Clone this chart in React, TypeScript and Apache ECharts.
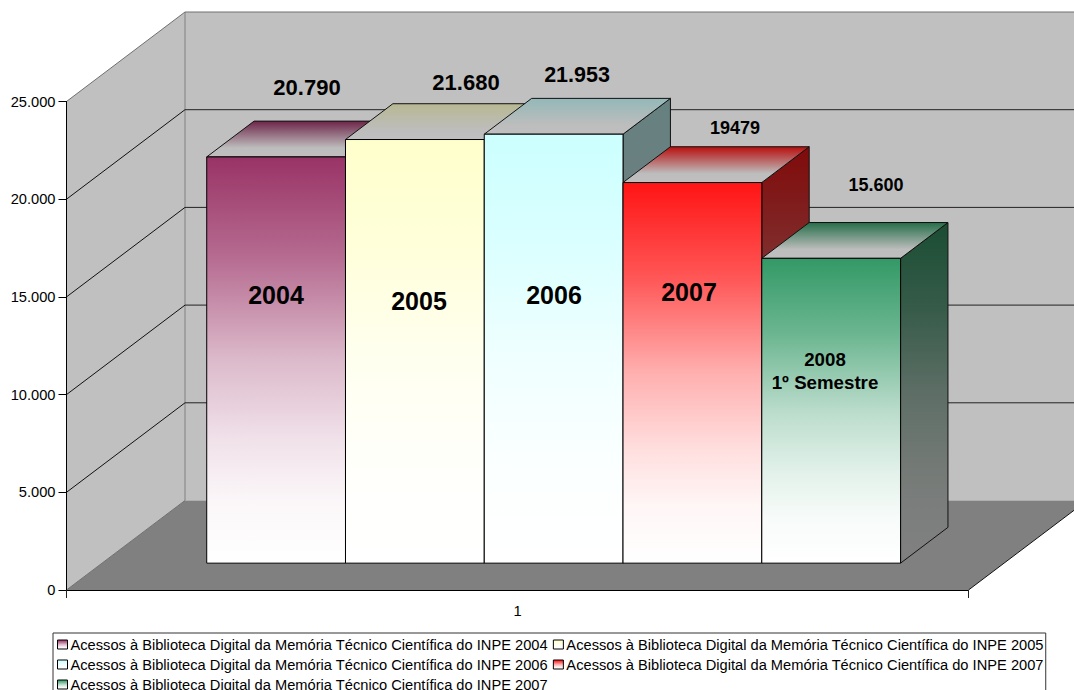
import React, { useEffect, useRef } from "react";
import * as echarts from "echarts";

const FONT = '"Liberation Sans", Arial, sans-serif';
const categories = ["1"];
const yTicks = [0, 5000, 10000, 15000, 20000, 25000];
const values = [20790, 21680, 21953, 19479, 15600];
const seriesNames = [
  "Acessos à Biblioteca Digital da Memória Técnico Científica do INPE 2004",
  "Acessos à Biblioteca Digital da Memória Técnico Científica do INPE 2005",
  "Acessos à Biblioteca Digital da Memória Técnico Científica do INPE 2006",
  "Acessos à Biblioteca Digital da Memória Técnico Científica do INPE 2007",
  // the reference repeats this name; the trailing space keeps ECharts from merging the two entries
  "Acessos à Biblioteca Digital da Memória Técnico Científica do INPE 2007 ",
];
const baseColors = [[153, 51, 102], [255, 255, 204], [204, 255, 255], [255, 20, 20], [51, 153, 102]];
const valueLabels = ["20.790", "21.680", "21.953", "19479", "15.600"];
const valueLabelPos = [[307, 87, 22], [466, 82, 22], [577, 75, 21.5], [735, 128, 18], [876, 185, 18]];
const yearLabels = ["2004", "2005", "2006", "2007", "2008\n1º Semestre"];
const yearLabelPos = [[276, 295, 25], [419, 301, 25], [554, 295, 25], [689, 292, 25], [825, 371, 18.7]];

const WALL_DX = 118.5;
const WALL_DY = -89.5;
const BAR_PLANE = 0.3;
const BAR_PLANE_X = 0.305;
const BAR_DEPTH = 0.4;
const GAP_BARS = 0.75;
// how far each colour has faded at a given height of a bar: [position, fade]
const FADE = [[0, 0], [0.25, 0.28], [0.5, 0.66], [0.7, 0.86], [0.85, 0.96], [1, 1]];

const rgb = (c: number[], k = 1) => `rgb(${c.map((v) => Math.round(v * k)).join(",")})`;
const vGrad = (stops: [number, string][]) =>
  new echarts.graphic.LinearGradient(0, 0, 0, 1, stops.map(([offset, color]) => ({ offset, color })));
const fadeGrad = (from: number[], to: number[]) =>
  vGrad(FADE.map(([pos, t]) => [pos, rgb(from.map((v, i) => v + (to[i] - v) * t))] as [number, string]));

const poly = (points: number[][], fill: any, stroke: any, z2 = 0, lineWidth = 1) => ({
  type: "polygon",
  shape: { points },
  z2,
  style: { fill, stroke, lineWidth },
});
const seg = (a: number[], b: number[], stroke: string) => ({
  type: "line",
  shape: { x1: a[0], y1: a[1], x2: b[0], y2: b[1] },
  style: { stroke, lineWidth: 1 },
});

function wallsItem(_p: any, api: any) {
  const band = api.size([1, 0])[0];
  const c = api.coord([0, 0]);
  const top = api.coord([0, 25000]);
  const L = c[0] - band / 2;
  const R = c[0] + band / 2;
  const y0 = c[1];
  const y1 = top[1];
  return {
    type: "group",
    children: [
      poly([[L + WALL_DX, y1 + WALL_DY], [R + WALL_DX, y1 + WALL_DY], [R + WALL_DX, y0 + WALL_DY], [L + WALL_DX, y0 + WALL_DY]], "#C0C0C0", "none"),
      poly([[L, y1], [L + WALL_DX, y1 + WALL_DY], [L + WALL_DX, y0 + WALL_DY], [L, y0]], "#C0C0C0", "none"),
      poly([[L, y0], [R, y0], [R + WALL_DX, y0 + WALL_DY], [L + WALL_DX, y0 + WALL_DY]], "#808080", "none"),
      seg([L + WALL_DX, y1 + WALL_DY], [L + WALL_DX, y0 + WALL_DY], "#808080"),
      seg([L + WALL_DX, y1 + WALL_DY], [R + WALL_DX, y1 + WALL_DY], "#707070"),
      seg([R, y0], [R + WALL_DX, y0 + WALL_DY], "#111"),
    ],
  };
}

function gridItem(_p: any, api: any) {
  const v = api.value(1);
  const band = api.size([1, 0])[0];
  const c = api.coord([0, v]);
  const L = c[0] - band / 2;
  const R = c[0] + band / 2;
  const y = c[1];
  const edge = v === 0 || v === 25000;
  const children: any[] = [seg([L, y], [L + WALL_DX, y + WALL_DY], edge ? "#707070" : "#111")];
  if (!edge) children.push(seg([L + WALL_DX, y + WALL_DY], [R + WALL_DX, y + WALL_DY], "#222"));
  return { type: "group", children };
}

function barItem(index: number) {
  return (_p: any, api: any) => {
    const band = api.size([1, 0])[0];
    const c0 = api.coord([0, 0]);
    const cv = api.coord([0, api.value(1)]);
    const w = band / (values.length + 2 * GAP_BARS);
    const ox = WALL_DX * BAR_PLANE_X;
    const oy = WALL_DY * BAR_PLANE;
    const dx = WALL_DX * BAR_DEPTH;
    const dy = WALL_DY * BAR_DEPTH;
    const x0 = c0[0] - band / 2 + ox + (GAP_BARS + index) * w;
    const x1 = x0 + w;
    const yb = c0[1] + oy;
    const yt = cv[1] + oy;
    const col = baseColors[index];
    return {
      type: "group",
      children: [
        poly([[x1, yt], [x1 + dx, yt + dy], [x1 + dx, yb + dy], [x1, yb]], fadeGrad(col.map((v) => v * 0.5), [128, 128, 128]), "#111"),
        poly([[x0, yt], [x0 + dx, yt + dy], [x1 + dx, yt + dy], [x1, yt]], vGrad([[0, rgb(col, 0.72)], [0.75, "#BDBDBD"], [1, "#BFBFBF"]]), "#111"),
        poly([[x0, yt], [x1, yt], [x1, yb], [x0, yb]], fadeGrad(col, [255, 255, 255]), "#000"),
      ],
    };
  };
}

const textEl = (text: string, pos: number[]) => ({
  type: "text",
  x: pos[0],
  y: pos[1],
  z: 20,
  silent: true,
  style: {
    text,
    fill: "#000",
    font: `bold ${pos[2]}px ${FONT}`,
    align: "center",
    verticalAlign: "middle",
    lineHeight: pos[2] * 1.25,
  },
});

export default function App() {
  const ref = useRef<HTMLDivElement>(null);
  useEffect(() => {
    document.body.style.margin = "0";
    document.body.style.overflow = "hidden";
    const chart = echarts.init(ref.current!, null, { renderer: "svg" });
    const axisFont = { fontFamily: FONT, fontSize: 14.67, color: "#000" };
    chart.setOption({
      animation: false,
      backgroundColor: "#fff",
      grid: { left: 66.5, top: 101.5, width: 902, height: 488.5, containLabel: false },
      xAxis: {
        type: "category",
        data: categories,
        z: 10,
        axisLine: { lineStyle: { color: "#000", width: 1 } },
        axisTick: { show: true, length: 8, lineStyle: { color: "#222" }, alignWithLabel: false },
        axisLabel: { ...axisFont, margin: 13 },
        splitLine: { show: false },
      },
      yAxis: {
        type: "value",
        min: 0,
        max: 25000,
        interval: 5000,
        z: 10,
        axisLine: { show: true, lineStyle: { color: "#000", width: 1 } },
        axisTick: { show: true, length: 8, lineStyle: { color: "#000" } },
        axisLabel: {
          ...axisFont,
          margin: 11,
          formatter: (v: number) => String(v).replace(/\B(?=(\d{3})+$)/g, "."),
        },
        splitLine: { show: false },
      },
      legend: {
        left: 53,
        top: 633,
        width: 1005,
        orient: "horizontal",
        selectedMode: false,
        backgroundColor: "#fff",
        borderColor: "#333",
        borderWidth: 1,
        padding: [4, 2, 6, 4],
        itemGap: 5,
        itemWidth: 10,
        itemHeight: 9,
        itemStyle: { borderWidth: 1, borderColor: "#000" },
        textStyle: { fontFamily: FONT, fontSize: 14.67, color: "#000", lineHeight: 15, padding: [0, 0, 0, -2] },
        data: seriesNames.map((name, i) => ({
          name,
          icon: "rect",
          itemStyle: { color: fadeGrad(baseColors[i], [255, 255, 255]), borderColor: "#000", borderWidth: 1 },
        })),
      },
      series: [
        { type: "custom", name: "walls", silent: true, z: 1, renderItem: wallsItem, data: [[0, 0]], encode: { x: 0, y: 1 } },
        { type: "custom", name: "grid", silent: true, z: 2, renderItem: gridItem, data: yTicks.map((v) => [0, v]), encode: { x: 0, y: 1 } },
        ...values.map((v, i) => ({
          type: "custom",
          name: seriesNames[i],
          silent: true,
          z: 3 + i,
          renderItem: barItem(i),
          data: [[0, v]],
          encode: { x: 0, y: 1 },
        })),
      ],
      graphic: [
        ...valueLabels.map((t, i) => textEl(t, valueLabelPos[i])),
        ...yearLabels.map((t, i) => textEl(t, yearLabelPos[i])),
      ],
    });
    return () => chart.dispose();
  }, []);
  return <div ref={ref} style={{ width: 1074, height: 690 }} />;
}
